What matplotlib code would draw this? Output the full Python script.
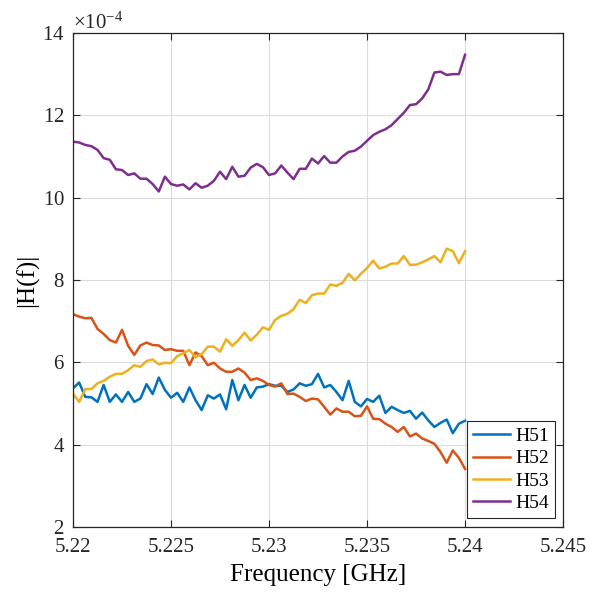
import numpy as np
import matplotlib
matplotlib.use("Agg")
import matplotlib.pyplot as plt
from matplotlib.ticker import ScalarFormatter

# 65 subcarriers across 20 MHz (312.5 kHz spacing)
freq_ghz = np.linspace(5.22, 5.24, 65)

# channel magnitudes, in units of 1e-4
h51 = [5.37, 5.51, 5.16, 5.15, 5.04, 5.45, 5.04, 5.22, 5.04, 5.28,
       5.04, 5.12, 5.47, 5.23, 5.63, 5.33, 5.14, 5.26, 5.04, 5.39,
       5.08, 4.84, 5.20, 5.12, 5.22, 4.86, 5.57, 5.08, 5.45, 5.14,
       5.39, 5.41, 5.47, 5.43, 5.43, 5.28, 5.34, 5.49, 5.43, 5.47,
       5.72, 5.39, 5.45, 5.28, 5.08, 5.55, 5.04, 4.93, 5.11, 5.04,
       5.19, 4.77, 4.92, 4.84, 4.77, 4.82, 4.63, 4.78, 4.59, 4.43,
       4.53, 4.61, 4.28, 4.51, 4.58]
h52 = [7.17, 7.11, 7.07, 7.08, 6.81, 6.69, 6.54, 6.48, 6.79, 6.40,
       6.18, 6.41, 6.48, 6.42, 6.41, 6.30, 6.32, 6.28, 6.28, 5.93,
       6.24, 6.15, 5.93, 5.99, 5.85, 5.77, 5.77, 5.85, 5.75, 5.57,
       5.61, 5.55, 5.45, 5.41, 5.49, 5.23, 5.24, 5.16, 5.06, 5.12,
       5.10, 4.92, 4.73, 4.88, 4.80, 4.80, 4.69, 4.70, 4.93, 4.63,
       4.62, 4.51, 4.43, 4.31, 4.43, 4.20, 4.27, 4.15, 4.09, 4.02,
       3.82, 3.56, 3.86, 3.68, 3.41]
h53 = [5.23, 5.04, 5.35, 5.35, 5.49, 5.55, 5.65, 5.72, 5.72, 5.81,
       5.93, 5.89, 6.03, 6.07, 5.95, 5.99, 5.98, 6.15, 6.22, 6.30,
       6.12, 6.20, 6.38, 6.38, 6.26, 6.56, 6.40, 6.54, 6.72, 6.53,
       6.67, 6.85, 6.79, 7.03, 7.13, 7.18, 7.29, 7.52, 7.44, 7.63,
       7.67, 7.67, 7.89, 7.86, 7.93, 8.15, 7.99, 8.15, 8.29, 8.47,
       8.28, 8.32, 8.40, 8.40, 8.58, 8.37, 8.37, 8.43, 8.50, 8.58,
       8.43, 8.76, 8.70, 8.41, 8.70]
h54 = [11.36, 11.34, 11.28, 11.25, 11.16, 10.96, 10.92, 10.69, 10.67, 10.55,
       10.59, 10.46, 10.46, 10.33, 10.15, 10.51, 10.33, 10.29, 10.32, 10.20,
       10.35, 10.24, 10.29, 10.41, 10.63, 10.45, 10.75, 10.51, 10.53, 10.73,
       10.82, 10.74, 10.55, 10.59, 10.78, 10.61, 10.45, 10.70, 10.70, 10.95,
       10.83, 11.01, 10.85, 10.85, 11.00, 11.11, 11.14, 11.24, 11.38, 11.52,
       11.60, 11.66, 11.76, 11.91, 12.06, 12.25, 12.27, 12.41, 12.63, 13.04,
       13.06, 12.98, 13.00, 13.00, 13.47]

labels = ["H51", "H52", "H53", "H54"]
colors = ["#0072BD", "#D95319", "#EDB120", "#7E2F8E"]

plt.rcParams['font.family'] = ['Liberation Serif', 'DejaVu Serif']
plt.rcParams['mathtext.fontset'] = 'custom'
plt.rcParams['mathtext.rm'] = 'Liberation Serif'

fig = plt.figure(figsize=(6.02, 5.93), dpi=100)
ax = fig.add_axes([0.1213, 0.1113, 0.814, 0.8331])

for series, lab, col in zip([h51, h52, h53, h54], labels, colors):
    ax.plot(freq_ghz, np.array(series) * 1e-4, color=col, lw=1.8, label=lab)

ax.set_xlim(5.22, 5.245)
ax.set_ylim(2e-4, 14e-4)
ax.set_xticks([5.22, 5.225, 5.23, 5.235, 5.24, 5.245])
ax.set_xticklabels(["5.22", "5.225", "5.23", "5.235", "5.24", "5.245"])
ax.set_yticks(np.arange(2, 15, 2) * 1e-4)

# fixed exponent so the axis reads 2..14 x 10^-4
fmt = ScalarFormatter(useMathText=True)
fmt.set_powerlimits((-4, -4))
ax.yaxis.set_major_formatter(fmt)
ax.yaxis.get_offset_text().set_fontsize(15)

ax.grid(True, color="#dcdcdc", lw=0.8)
ax.tick_params(direction="in", top=True, right=True, labelsize=15,
               length=5, width=0.8, colors="#262626")
ax.tick_params(axis="x", pad=8)
ax.tick_params(axis="y", pad=6)
for sp in ax.spines.values():
    sp.set_color("#262626")
    sp.set_linewidth(0.9)

ax.set_xlabel("Frequency [GHz]", fontsize=18, labelpad=5)
ax.set_ylabel("|H(f)|", fontsize=18, labelpad=2)

# legend sits just right of the last data point
leg = ax.legend(loc="lower right", bbox_to_anchor=(0.984, 0.018),
                fontsize=14, frameon=True, fancybox=False,
                edgecolor="#262626", framealpha=1, borderaxespad=0,
                handlelength=1.9, labelspacing=0.25, borderpad=0.3,
                handletextpad=0.3)
leg.get_frame().set_linewidth(0.8)

fig.savefig("out.png", dpi=100)
